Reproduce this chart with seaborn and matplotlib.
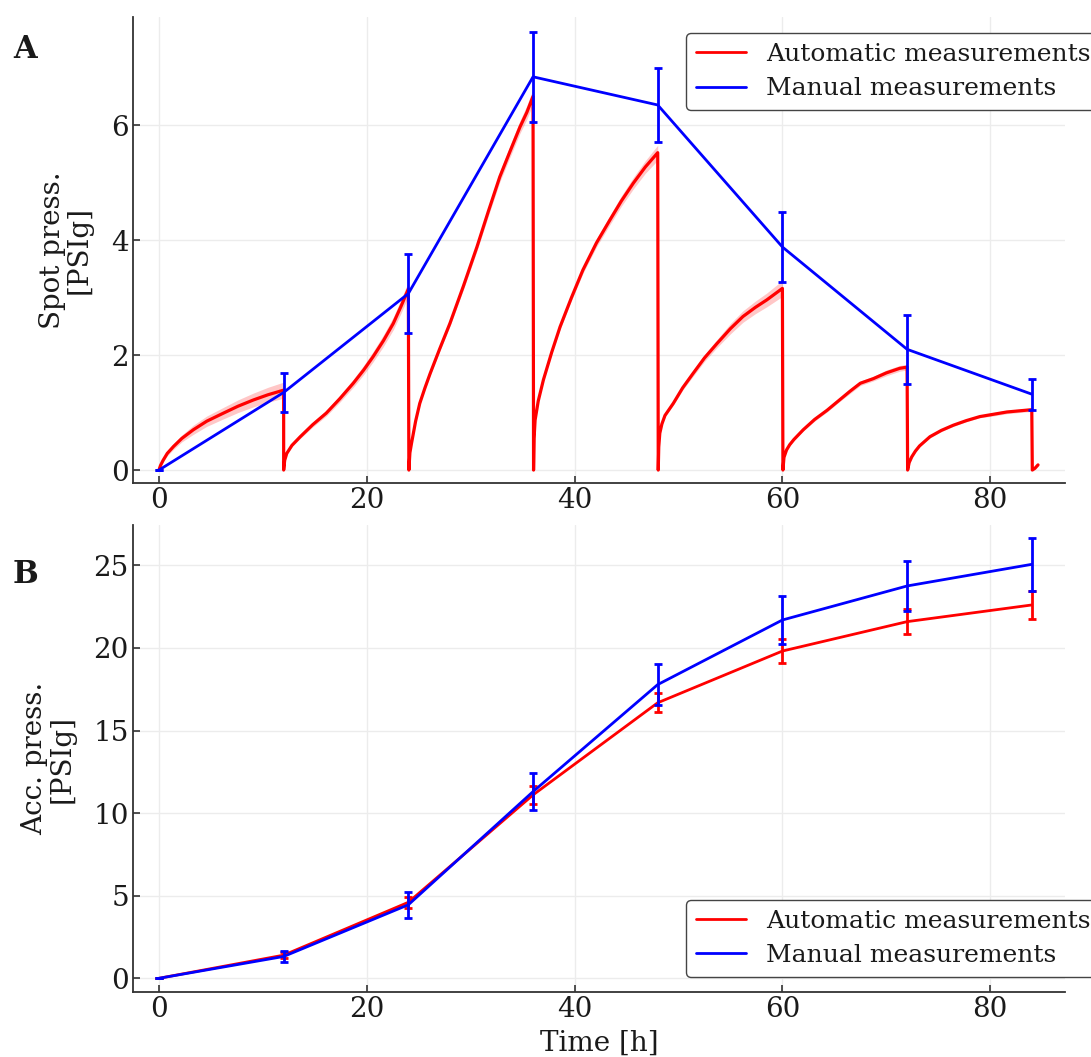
import matplotlib
matplotlib.use("Agg")
import matplotlib.pyplot as plt
import seaborn as sns
import numpy as np
import pandas as pd

# ---------------- data ----------------
# Panel A: automatic (continuous) spot pressure, piecewise by 12 h cycles
auto_time = [0, 0.15, 0.4, 0.8, 1.4, 2.2, 3.3, 4.6, 6.2, 7.6, 9.1, 10.5, 12.0,
             12.0, 12.1, 12.3, 12.8, 13.6, 14.8, 16.1, 17.4, 18.7, 19.7, 20.6, 21.6, 22.55, 23.3, 24.0,
             24.05, 24.15, 24.3, 24.7, 25.1, 25.6, 26.1, 27.0, 28.0, 29.3, 30.6, 31.7, 32.8, 33.8, 34.75, 35.4, 36.0,
             36.05, 36.1, 36.2, 36.5, 37.0, 37.8, 38.6, 39.7, 40.8, 42.1, 43.4, 44.5, 45.65, 46.8, 48.0,
             48.05, 48.1, 48.2, 48.4, 48.7, 49.5, 50.4, 51.4, 52.5, 53.7, 55.0, 56.2, 57.4, 58.5, 60.0,
             60.05, 60.15, 60.4, 60.7, 61.1, 62.0, 63.1, 64.3, 65.5, 66.5, 67.5, 68.75, 70.0, 71.3, 72.0,
             72.05, 72.2, 72.45, 72.8, 73.2, 74.2, 75.3, 76.45, 77.7, 79.0, 80.3, 81.6, 82.8, 84.0,
             84.05, 84.3, 84.6]
auto_spot = [0, 0.08, 0.17, 0.29, 0.41, 0.55, 0.70, 0.85, 0.99, 1.11, 1.22, 1.31, 1.39,
             0.0, 0.17, 0.29, 0.43, 0.58, 0.79, 0.99, 1.24, 1.51, 1.74, 1.97, 2.25, 2.55, 2.85, 3.15,
             0.0, 0.30, 0.46, 0.85, 1.16, 1.43, 1.68, 2.10, 2.55, 3.20, 3.88, 4.50, 5.10, 5.55, 5.97, 6.22, 6.50,
             0.0, 0.55, 0.87, 1.20, 1.57, 2.05, 2.49, 3.00, 3.48, 3.95, 4.35, 4.68, 4.99, 5.27, 5.52,
             0.0, 0.40, 0.64, 0.80, 0.95, 1.16, 1.43, 1.68, 1.95, 2.20, 2.46, 2.67, 2.83, 2.96, 3.16,
             0.0, 0.22, 0.35, 0.44, 0.53, 0.70, 0.88, 1.04, 1.22, 1.37, 1.51, 1.59, 1.69, 1.77, 1.79,
             0.0, 0.13, 0.23, 0.33, 0.42, 0.58, 0.69, 0.78, 0.86, 0.93, 0.97, 1.01, 1.03, 1.05,
             0.0, 0.03, 0.09]
auto_sd = [0.01, 0.02, 0.03, 0.04, 0.05, 0.06, 0.08, 0.09, 0.10, 0.11, 0.12, 0.13, 0.14,
           0.0, 0.01, 0.02, 0.02, 0.03, 0.04, 0.05, 0.06, 0.07, 0.08, 0.09, 0.10, 0.11, 0.12, 0.13,
           0.0, 0.01, 0.01, 0.02, 0.02, 0.03, 0.03, 0.04, 0.05, 0.06, 0.07, 0.08, 0.09, 0.10, 0.11, 0.12, 0.13,
           0.0, 0.01, 0.01, 0.02, 0.02, 0.03, 0.04, 0.05, 0.06, 0.07, 0.08, 0.09, 0.10, 0.11, 0.13,
           0.0, 0.01, 0.01, 0.02, 0.02, 0.03, 0.04, 0.05, 0.06, 0.07, 0.09, 0.10, 0.11, 0.12, 0.14,
           0.0, 0.01, 0.01, 0.01, 0.02, 0.02, 0.03, 0.03, 0.03, 0.04, 0.04, 0.04, 0.05, 0.05, 0.05,
           0.0, 0.01, 0.01, 0.01, 0.01, 0.02, 0.02, 0.02, 0.02, 0.02, 0.03, 0.03, 0.03, 0.03,
           0.0, 0.0, 0.0]

# Manual measurements, spot pressure
manual_time = [0, 12, 24, 36, 48, 60, 72, 84]
manual_spot = [0.0, 1.35, 3.07, 6.84, 6.35, 3.88, 2.10, 1.32]
manual_spot_err = [0.0, 0.34, 0.68, 0.78, 0.64, 0.61, 0.60, 0.27]

# Panel B: accumulated pressure
acc_time = [0, 12, 24, 36, 48, 60, 72, 84]
auto_acc = [0.0, 1.40, 4.60, 11.10, 16.68, 19.81, 21.59, 22.60]
auto_acc_err = [0.0, 0.20, 0.35, 0.55, 0.58, 0.70, 0.76, 0.85]
manual_acc = [0.0, 1.32, 4.45, 11.30, 17.78, 21.69, 23.75, 25.06]
manual_acc_err = [0.0, 0.35, 0.80, 1.12, 1.24, 1.46, 1.51, 1.60]

RED = "#ff0000"
BLUE = "#0000ff"

# ---------------- style ----------------
sns.set_style("ticks")
plt.rcParams["font.family"] = ["DejaVu Serif"]
plt.rcParams["axes.edgecolor"] = "#333333"
plt.rcParams["axes.linewidth"] = 1.3
plt.rcParams["text.color"] = "#1a1a1a"
plt.rcParams["axes.labelcolor"] = "#1a1a1a"
plt.rcParams["xtick.color"] = "#333333"
plt.rcParams["ytick.color"] = "#333333"
plt.rcParams["xtick.labelcolor"] = "#1a1a1a"
plt.rcParams["ytick.labelcolor"] = "#1a1a1a"

fig = plt.figure(figsize=(10.91, 10.57), dpi=100)
axA = fig.add_axes([0.1219, 0.543, 0.8543, 0.4409])
axB = fig.add_axes([0.1219, 0.0615, 0.8543, 0.4418])

auto_df = pd.DataFrame({"t": auto_time, "v": auto_spot, "sd": auto_sd})
man_df = pd.DataFrame({"t": manual_time, "v": manual_spot, "e": manual_spot_err})
accA_df = pd.DataFrame({"t": acc_time, "v": auto_acc, "e": auto_acc_err})
accM_df = pd.DataFrame({"t": acc_time, "v": manual_acc, "e": manual_acc_err})

# ---- Panel A ----
axA.fill_between(auto_df["t"], auto_df["v"] - auto_df["sd"], auto_df["v"] + auto_df["sd"],
                 color=RED, alpha=0.22, linewidth=0, zorder=2)
sns.lineplot(data=auto_df, x="t", y="v", ax=axA, color=RED, lw=2.3,
             estimator=None, sort=False, label="Automatic measurements", zorder=3)
sns.lineplot(data=man_df, x="t", y="v", ax=axA, color=BLUE, lw=2.0,
             estimator=None, sort=False, label="Manual measurements", zorder=4)
axA.errorbar(man_df["t"], man_df["v"], yerr=man_df["e"], fmt="none", ecolor=BLUE,
             elinewidth=2.0, capsize=3, capthick=2.0, zorder=4)

# ---- Panel B ----
sns.lineplot(data=accA_df, x="t", y="v", ax=axB, color=RED, lw=2.0,
             estimator=None, sort=False, label="Automatic measurements", zorder=3)
axB.errorbar(accA_df["t"], accA_df["v"], yerr=accA_df["e"], fmt="none", ecolor=RED,
             elinewidth=2.0, capsize=3, capthick=2.0, zorder=3)
sns.lineplot(data=accM_df, x="t", y="v", ax=axB, color=BLUE, lw=2.0,
             estimator=None, sort=False, label="Manual measurements", zorder=4)
axB.errorbar(accM_df["t"], accM_df["v"], yerr=accM_df["e"], fmt="none", ecolor=BLUE,
             elinewidth=2.0, capsize=3, capthick=2.0, zorder=4)

for ax in (axA, axB):
    ax.set_xlim(-2.5, 87.2)
    ax.set_xticks([0, 20, 40, 60, 80])
    ax.grid(True, color="#ececec", lw=1.0)
    ax.set_axisbelow(True)
    sns.despine(ax=ax)
    ax.tick_params(direction="in", length=5, width=1.2, labelsize=20, pad=3)

axA.set_ylim(-0.226, 7.88)
axA.set_yticks([0, 2, 4, 6])
axB.set_ylim(-0.83, 27.44)
axB.set_yticks([0, 5, 10, 15, 20, 25])

axA.set_xlabel("")
axA.set_ylabel("Spot press.\n[PSIg]", fontsize=20, labelpad=13, linespacing=1.0)
axB.set_ylabel("Acc. press.\n[PSIg]", fontsize=20, labelpad=13, linespacing=1.0)
axB.set_xlabel("Time [h]", fontsize=20, labelpad=5)

legA = axA.legend(loc="upper left", bbox_to_anchor=(686 / 1091, 1 - 33 / 1057),
                  bbox_transform=fig.transFigure, borderaxespad=0, fontsize=18,
                  frameon=True, framealpha=1, edgecolor="#444444", fancybox=True,
                  handlelength=2.0, labelspacing=0.45)
legB = axB.legend(loc="lower left", bbox_to_anchor=(686 / 1091, 1 - 977 / 1057),
                  bbox_transform=fig.transFigure, borderaxespad=0, fontsize=18,
                  frameon=True, framealpha=1, edgecolor="#444444", fancybox=True,
                  handlelength=2.0, labelspacing=0.45)
for leg in (legA, legB):
    leg.get_frame().set_linewidth(1.0)
    for h in leg.get_lines():
        h.set_linewidth(2.0)

fig.text(13 / 1091, 1 - 58 / 1057, "A", fontsize=22, fontweight="bold", va="baseline")
fig.text(13 / 1091, 1 - 583 / 1057, "B", fontsize=22, fontweight="bold", va="baseline")

fig.savefig("out.png", dpi=100)
